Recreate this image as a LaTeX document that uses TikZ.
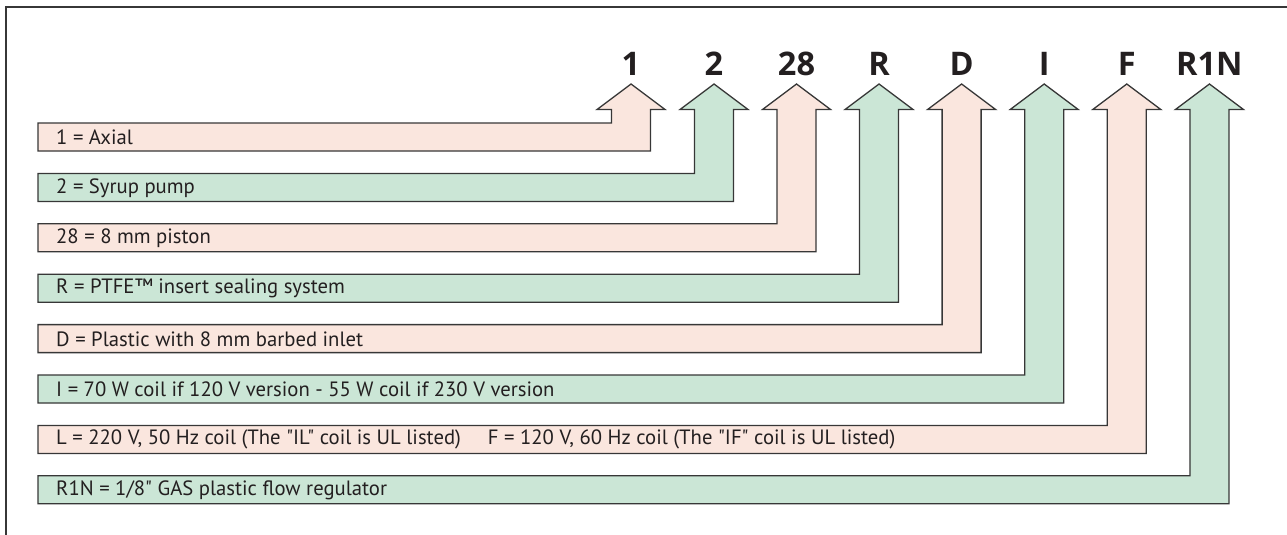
\documentclass[tikz,border=0pt]{standalone}
\usepackage{fontspec}
\setmainfont{PT Sans}[Ligatures=TeXOff]
\newfontfamily\labelfont{Open Sans}[Ligatures=TeXOff]
\definecolor{pinkf}{RGB}{250,230,222}
\definecolor{greenf}{RGB}{203,230,214}
\definecolor{edge}{RGB}{55,55,55}
\definecolor{ink}{RGB}{35,31,32}
\tikzset{
  band/.style={draw=edge, line width=1.3pt, line join=miter},
  bandtext/.style={anchor=west, inner sep=0pt, font=\fontsize{20.7}{24}\selectfont, text=ink},
  codelabel/.style={anchor=base, inner sep=0pt, font=\labelfont\fontsize{32.5}{36}\selectfont\bfseries, text=ink},
  frame/.style={draw=edge, line width=2pt},
}
\begin{document}
\begin{tikzpicture}[x=1pt,y=-1pt]
\useasboundingbox (0,0) rectangle (1287,535);
\draw[frame] (6,535) -- (6,7) -- (1287,7);
\foreach \i/\cx/\col/\lab/\txt in {
  0/631/pinkf/1/{1 = Axial},
  1/714/greenf/2/{2 = Syrup pump},
  2/796.5/pinkf/28/{28 = 8 mm piston},
  3/879/greenf/R/{R = PTFE™ insert sealing system},
  4/961.6/pinkf/D/{D = Plastic with 8 mm barbed inlet},
  5/1044.2/greenf/I/{I = 70 W coil if 120 V version - 55 W coil if 230 V version},
  6/1126.8/pinkf/F/{L = 220 V, 50 Hz coil (The "IL" coil is UL listed)\hspace{27pt}F = 120 V, 60 Hz coil (The "IF" coil is UL listed)},
  7/1209.4/greenf/R1N/{R1N = 1/8" GAS plastic flow regulator}}
{
  \pgfmathsetmacro\t{123+50.4*\i}
  \pgfmathsetmacro\b{\t+28}
  \filldraw[band, fill=\col] (38,\t) -- (\cx-19.5,\t) -- (\cx-19.5,109.5) -- (\cx-34,109.5)
    -- (\cx,84) -- (\cx+34,109.5) -- (\cx+19.5,109.5) -- (\cx+19.5,\b) -- (38,\b) -- cycle;
  \node[bandtext] (txt\i) at (56,\t+14.5) {\txt};
  \node[codelabel] (lab\i) at (\cx,75) {\lab};
}
\end{tikzpicture}
\end{document}
